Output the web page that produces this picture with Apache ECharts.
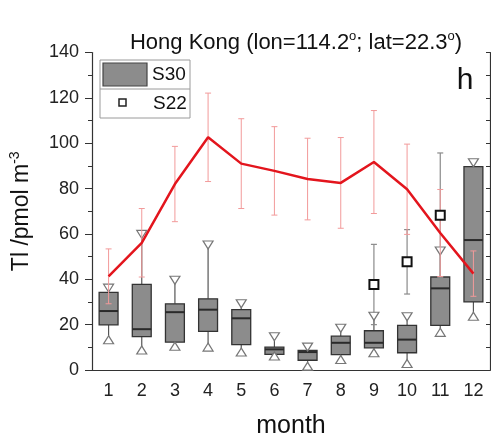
<!DOCTYPE html>
<html>
<head>
<meta charset="utf-8">
<script src="https://cdn.jsdelivr.net/npm/echarts@6/dist/echarts.min.js"></script>
<style>
html,body{margin:0;padding:0;background:#fff;}
#chart{width:491px;height:444px;}
</style>
</head>
<body>
<div id="chart"></div>
<script>
// ---- data ----
var months = ['1','2','3','4','5','6','7','8','9','10','11','12'];
// S30 box statistics
var boxMin = [13.3, 8.8, 10.5, 10.1, 7.9, 6.2, 1.7, 4.6, 7.6, 2.9, 16.6, 23.7];
var boxQ1  = [19.9, 14.7, 12.3, 17.0, 11.2, 6.9, 4.3, 6.8, 9.8, 7.6, 19.7, 30.0];
var boxMed = [26.0, 18.0, 25.5, 26.6, 22.8, 9.1, 7.9, 12.0, 12.0, 13.4, 36.0, 57.3];
var boxQ3  = [34.2, 37.8, 29.2, 31.4, 26.6, 10.1, 8.6, 14.9, 17.3, 19.7, 41.0, 89.7];
var boxMax = [36.1, 59.8, 39.6, 55.1, 29.2, 14.7, 10.1, 18.4, 23.7, 23.5, 52.5, 91.4];
// red mean line with error bars
var redMean = [41.3, 56.1, 82.0, 102.6, 91.0, 87.8, 84.2, 82.5, 91.7, 79.7, 60.4, 42.5];
var redErr  = [12.1, 15.1, 16.6, 19.5, 19.8, 19.5, 18.0, 20.0, 22.7, 19.9, 19.2, 10.0];
// S22 points
var s22Month = ['9', '10', '11'];
var s22Val   = [37.7, 47.7, 68.2];
var s22Err   = [17.7, 14.2, 27.5];
// axis ticks
var yMin = 0, yMax = 140, yStep = 20;

var FONT = 'Liberation Sans, Arial, sans-serif';
var chart = echarts.init(document.getElementById('chart'));

var boxData = months.map(function (m, i) {
  return [i, boxMin[i], boxQ1[i], boxMed[i], boxQ3[i], boxMax[i]];
});
var redErrData = months.map(function (m, i) {
  return [i, redMean[i] - redErr[i], redMean[i] + redErr[i]];
});
var s22Idx = s22Month.map(function (m) { return months.indexOf(m); });
var s22ErrData = s22Idx.map(function (idx, k) {
  return [idx, s22Val[k] - s22Err[k], s22Val[k] + s22Err[k]];
});
var s22Data = s22Idx.map(function (idx, k) { return [idx, s22Val[k]]; });

function errRender(color, lw, capW) {
  return function (params, api) {
    var x = api.value(0);
    var lo = api.coord([x, api.value(1)]);
    var hi = api.coord([x, api.value(2)]);
    var st = { stroke: color, lineWidth: lw, fill: null };
    return {
      type: 'group',
      children: [
        { type: 'line', shape: { x1: lo[0], y1: lo[1], x2: hi[0], y2: hi[1] }, style: st },
        { type: 'line', shape: { x1: lo[0] - capW / 2, y1: lo[1], x2: lo[0] + capW / 2, y2: lo[1] }, style: st },
        { type: 'line', shape: { x1: hi[0] - capW / 2, y1: hi[1], x2: hi[0] + capW / 2, y2: hi[1] }, style: st }
      ]
    };
  };
}

function boxRender(params, api) {
  var x = api.value(0);
  var w = api.size([1, 0])[0] * 0.57;
  var pMin = api.coord([x, api.value(1)]);
  var pQ1 = api.coord([x, api.value(2)]);
  var pMed = api.coord([x, api.value(3)]);
  var pQ3 = api.coord([x, api.value(4)]);
  var pMax = api.coord([x, api.value(5)]);
  var cx = pQ1[0];
  var wh = { stroke: '#555', lineWidth: 1.2, fill: null };
  return {
    type: 'group',
    children: [
      { type: 'line', shape: { x1: cx, y1: pQ3[1], x2: cx, y2: pMax[1] }, style: wh },
      { type: 'line', shape: { x1: cx, y1: pQ1[1], x2: cx, y2: pMin[1] }, style: wh },
      { type: 'rect', shape: { x: cx - w / 2, y: pQ3[1], width: w, height: pQ1[1] - pQ3[1] },
        style: { fill: '#8c8c8c', stroke: '#333', lineWidth: 1.3 } },
      { type: 'line', shape: { x1: cx - w / 2, y1: pMed[1], x2: cx + w / 2, y2: pMed[1] },
        style: { stroke: '#2a2a2a', lineWidth: 2 } }
    ]
  };
}

var axisColor = '#333';
var option = {
  animation: false,
  backgroundColor: '#fff',
  title: {
    text: '{t|Hong Kong (lon=114.2}{s|o}{t|; lat=22.3}{s|o}{t|)}',
    left: 296, top: 30, textAlign: 'center', padding: 0,
    textStyle: {
      fontWeight: 'normal',
      rich: {
        t: { fontFamily: FONT, fontSize: 22, fontWeight: 'normal', color: '#111', lineHeight: 26 },
        s: { fontFamily: FONT, fontSize: 13, fontWeight: 'normal', color: '#111', lineHeight: 13, verticalAlign: 'top' }
      }
    }
  },
  grid: { left: 86, right: 1, top: 52.5, bottom: 67.3, containLabel: false },
  xAxis: [{
    type: 'category', data: months, position: 'bottom', boundaryGap: true,
    axisLine: { lineStyle: { color: axisColor, width: 1.2 } },
    axisTick: { alignWithLabel: true, inside: false, length: 5, lineStyle: { color: axisColor } },
    axisLabel: { fontFamily: FONT, fontSize: 18, color: '#222', margin: 12 },
    splitLine: { show: false },
    name: 'month', nameLocation: 'middle', nameGap: 44,
    nameTextStyle: { fontFamily: FONT, fontSize: 25, color: '#111' }
  }, {
    type: 'category', data: months, position: 'top', boundaryGap: true,
    axisLine: { lineStyle: { color: axisColor, width: 1.2 } },
    axisTick: { alignWithLabel: true, inside: true, length: 4, lineStyle: { color: axisColor } },
    axisLabel: { show: false }, splitLine: { show: false }
  }],
  yAxis: [{
    type: 'value', min: yMin, max: yMax, interval: yStep, position: 'left',
    axisLine: { show: true, lineStyle: { color: axisColor, width: 1.2 } },
    axisTick: { show: true, inside: false, length: 7, lineStyle: { color: axisColor } },
    minorTick: { show: true, splitNumber: 2, length: 4, lineStyle: { color: axisColor } },
    axisLabel: { fontFamily: FONT, fontSize: 18, color: '#222', margin: 13 },
    splitLine: { show: false },
    name: '{a|Tl /pmol m}{s|-3}', nameLocation: 'middle', nameGap: 56,
    nameTextStyle: {
      rich: {
        a: { fontFamily: FONT, fontSize: 23, color: '#111', lineHeight: 28 },
        s: { fontFamily: FONT, fontSize: 14, color: '#111', lineHeight: 14, verticalAlign: 'top' }
      }
    }
  }, {
    type: 'value', min: yMin, max: yMax, interval: yStep, position: 'right',
    axisLine: { show: true, lineStyle: { color: axisColor, width: 1.2 } },
    axisTick: { show: true, inside: true, length: 4, lineStyle: { color: axisColor } },
    minorTick: { show: true, splitNumber: 2, length: 4, lineStyle: { color: axisColor } },
    axisLabel: { show: false }, splitLine: { show: false }
  }],
  series: [{
    name: 'S30', type: 'custom', renderItem: boxRender, data: boxData, z: 2,
    encode: { x: 0, y: [1, 2, 3, 4, 5] }
  }, {
    name: 'S30 max', type: 'scatter', symbol: 'triangle', symbolRotate: 180, symbolSize: [10, 8],
    data: boxMax.map(function (v, i) { return [i, v]; }), z: 3,
    itemStyle: { color: '#fff', borderColor: '#777', borderWidth: 1.2, opacity: 1 }
  }, {
    name: 'S30 min', type: 'scatter', symbol: 'triangle', symbolSize: [10, 8],
    data: boxMin.map(function (v, i) { return [i, v]; }), z: 3,
    itemStyle: { color: '#fff', borderColor: '#777', borderWidth: 1.2, opacity: 1 }
  }, {
    name: 'S22 err', type: 'custom', renderItem: errRender('#8a8a8a', 1.2, 6), data: s22ErrData, z: 3,
    encode: { x: 0, y: [1, 2] }
  }, {
    name: 'mean err', type: 'custom', renderItem: errRender('#f29a9a', 1, 6), data: redErrData, z: 4,
    encode: { x: 0, y: [1, 2] }
  }, {
    name: 'mean', type: 'line', data: redMean, symbol: 'none', z: 5,
    lineStyle: { color: '#e3151d', width: 2.5 }
  }, {
    name: 'S22', type: 'scatter', symbol: 'rect', symbolSize: 9, data: s22Data, z: 6,
    itemStyle: { color: '#fff', borderColor: '#111', borderWidth: 2, opacity: 1 }
  }],
  graphic: [
    { type: 'rect', shape: { x: 100, y: 60, width: 90, height: 58 },
      style: { fill: '#fff', stroke: '#9a9a9a', lineWidth: 1 }, z: 10 },
    { type: 'line', shape: { x1: 100, y1: 89, x2: 190, y2: 89 },
      style: { stroke: '#9a9a9a', lineWidth: 1 }, z: 10 },
    { type: 'rect', shape: { x: 103, y: 63, width: 44, height: 23 },
      style: { fill: '#8c8c8c', stroke: '#444', lineWidth: 1.2 }, z: 11 },
    { type: 'text', x: 152, y: 75, z: 11,
      style: { text: 'S30', fontFamily: FONT, fontSize: 19, fill: '#111', verticalAlign: 'middle' } },
    { type: 'rect', shape: { x: 119, y: 99, width: 7, height: 7 },
      style: { fill: '#fff', stroke: '#222', lineWidth: 1.5 }, z: 11 },
    { type: 'text', x: 153, y: 104, z: 11,
      style: { text: 'S22', fontFamily: FONT, fontSize: 19, fill: '#111', verticalAlign: 'middle' } },
    { type: 'text', x: 465, y: 81, z: 11,
      style: { text: 'h', fontFamily: FONT, fontSize: 30, fill: '#111', align: 'center', verticalAlign: 'middle' } }
  ]
};
chart.setOption(option);
</script>
</body>
</html>
